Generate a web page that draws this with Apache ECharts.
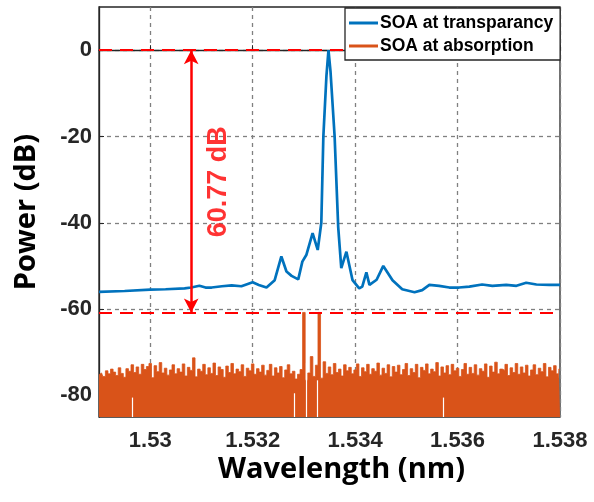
<!DOCTYPE html>
<html><head><meta charset="utf-8">
<script src="https://cdn.jsdelivr.net/npm/echarts@6/dist/echarts.min.js"></script>
<style>html,body{margin:0;padding:0;background:#fff}#c{width:594px;height:502px}</style>
</head><body><div id="c"></div>
<script>
// ---- data ----
const xTicks = [1.53, 1.532, 1.534, 1.536, 1.538];
const yTicks = [-80, -60, -40, -20, 0];
const seriesNames = ['SOA at transparancy', 'SOA at absorption'];

const blueX = [1.529, 1.5295, 1.5300, 1.5303, 1.53067, 1.5308, 1.53096, 1.53108, 1.5312, 1.5314, 1.53159, 1.53178, 1.532, 1.53212, 1.53227, 1.53243, 1.53256, 1.53266, 1.53276, 1.53289, 1.53297, 1.53305, 1.53317, 1.53327, 1.53334, 1.53338, 1.53344, 1.53348, 1.53352, 1.5336, 1.53367, 1.53373, 1.53383, 1.53395, 1.53408, 1.53414, 1.53422, 1.53428, 1.53442, 1.53455, 1.53473, 1.53492, 1.53516, 1.53531, 1.53545, 1.53564, 1.53584, 1.53603, 1.53623, 1.53648, 1.53668, 1.53695, 1.53715, 1.53734, 1.53754, 1.53779, 1.538];
const blueY = [-56.0, -55.8, -55.5, -55.4, -55.2, -55.0, -54.6, -55.0, -55.0, -54.7, -54.5, -54.7, -53.8, -54.4, -55.0, -53.3, -47.8, -51.3, -52.3, -53.1, -49.0, -47.4, -42.4, -46.3, -40.0, -20.0, -6.0, 0.0, -5.0, -20.0, -41.0, -50.5, -46.7, -53.3, -55.2, -54.8, -51.5, -54.4, -53.2, -50.0, -53.3, -55.4, -56.1, -55.6, -54.4, -54.6, -55.0, -55.0, -54.8, -54.3, -54.6, -54.4, -54.6, -53.9, -54.3, -54.4, -54.4];

const orangeStart = 1.529, orangeStep = 0.00005;
const orangeY = [
 -75.2,-74.8,-75.6,-74.3,-75.0,-73.9,-74.6,-75.4,-73.6,-74.9,-75.8,-73.8,-74.4,-72.9,-74.7,-73.4,-75.1,-72.8,-74.0,-73.3,
 -72.6,-75.9,-73.1,-74.5,-72.4,-74.8,-73.7,-75.3,-74.1,-72.9,-75.0,-73.8,-74.6,-72.7,-75.5,-73.5,-74.2,-71.3,-75.7,-73.9,
 -74.4,-72.8,-75.2,-73.6,-74.9,-72.5,-75.4,-73.4,-74.0,-75.8,-73.2,-74.7,-72.6,-75.0,-73.9,-74.5,-72.9,-75.6,-73.7,-74.3,
 -72.7,-75.1,-73.8,-74.6,-73.0,-75.3,-74.2,-72.8,-75.5,-73.6,-74.8,-73.3,-75.9,-74.1,-72.9,-75.0,-74.4,-76.2,-75.1,-74.0,
 -60.77,-76.5,-74.8,-71.0,-75.6,-73.0,-60.77,-76.0,-72.2,-74.9,
 -73.4,-75.2,-72.6,-74.7,-73.9,-75.5,-72.9,-74.3,-73.5,-75.0,-74.1,-72.7,-75.6,-73.6,-74.5,-72.8,-75.1,-73.8,-74.4,-72.5,
 -75.3,-73.7,-74.9,-72.9,-75.7,-73.3,-74.6,-73.0,-75.2,-74.0,-72.6,-75.4,-73.8,-74.7,-72.8,-75.9,-73.5,-74.2,-72.7,-75.0,
 -73.9,-74.5,-72.4,-75.5,-73.4,-74.8,-73.1,-75.2,-72.8,-74.3,-73.7,-75.6,-74.0,-72.6,-75.1,-73.5,-74.9,-72.9,-75.3,-73.8,
 -74.4,-72.7,-75.8,-73.2,-74.6,-72.3,-75.0,-73.9,-74.2,-72.8,-75.4,-73.6,-74.7,-72.6,-75.1,-73.4,-74.8,-73.0,-75.5,-74.1,
 -72.9,-75.2,-73.7,-74.5,-72.6,-75.7,-73.5,-74.3,-73.1,-75.0,-73.9
];
// thin white slits in the absorption fill
const gapX = [1.52964, 1.53282, 1.53305, 1.53326, 1.53572];
const gapTop = [-80.5, -79.5, -72.5, -76.5, -80.5];

const refLevels = [0, -60.77];
const arrowX = 1.5308;
const annotX = 1.53134, annotY = -30.5, annotText = '60.77 dB';

// ---- build ----
const blueData = blueX.map((x, i) => [x, blueY[i]]);
const orangeData = orangeY.map((y, i) => [+(orangeStart + i * orangeStep).toFixed(5), y]);
const AXMIN = -85;

const chart = echarts.init(document.getElementById('c'), null, {renderer: 'canvas'});
const tickFont = {fontFamily: 'Liberation Sans', fontWeight: 'bold', fontSize: 22, color: '#262626'};
const nameFont = {fontFamily: 'Open Sans', fontWeight: 'bold', fontSize: 29, color: '#000'};
const gridLine = {show: true, lineStyle: {color: '#808080', width: 1.3, type: [4, 4]}};

chart.setOption({
  animation: false,
  backgroundColor: '#fff',
  grid: {left: 99, right: 34, top: 7, bottom: 85, show: true, borderColor: '#262626', borderWidth: 1.3, backgroundColor: 'transparent'},
  legend: {
    data: seriesNames.map(n => ({name: n, icon: 'rect'})),
    orient: 'vertical', left: 345, top: 8, z: 20,
    backgroundColor: '#fff', borderColor: '#262626', borderWidth: 1.3,
    padding: [6, 7, 5, 4], itemGap: 5, itemWidth: 29, itemHeight: 3,
    textStyle: {fontFamily: 'Liberation Sans', fontWeight: 'bold', fontSize: 17.5, color: '#000', padding: [0, 0, 0, -3]}
  },
  xAxis: {
    type: 'value', min: 1.529, max: 1.538,
    name: 'Wavelength (nm)', nameLocation: 'middle', nameGap: 38, nameMoveOverlap: false,
    nameTextStyle: Object.assign({padding: [0, 0, 0, 24]}, nameFont),
    axisLine: {show: true, lineStyle: {color: '#262626', width: 1.3}},
    axisTick: {show: true, inside: true, length: 5, customValues: xTicks, lineStyle: {color: '#262626'}},
    axisLabel: Object.assign({customValues: xTicks, margin: 13}, tickFont),
    splitLine: gridLine
  },
  yAxis: {
    type: 'value', min: AXMIN, max: 10,
    name: 'Power (dB)', nameLocation: 'middle', nameGap: 58, nameTextStyle: nameFont,
    axisLine: {show: true, lineStyle: {color: '#262626', width: 1.3}},
    axisTick: {show: true, inside: true, length: 5, customValues: yTicks, lineStyle: {color: '#262626'}},
    axisLabel: Object.assign({customValues: yTicks, margin: 7}, tickFont),
    splitLine: gridLine
  },
  series: [
    {
      name: seriesNames[1], type: 'line', data: orangeData, symbol: 'none', z: 2, step: 'middle',
      lineStyle: {color: '#D95319', width: 0.8}, itemStyle: {color: '#D95319'},
      areaStyle: {color: '#D95319', opacity: 1, origin: 'start'}
    },
    {
      name: 'gaps', type: 'line', data: [], symbol: 'none', z: 3, silent: true,
      markLine: {silent: true, symbol: 'none', label: {show: false},
        lineStyle: {color: '#ffffff', width: 1.2, type: 'solid'},
        data: gapX.map((x, i) => [{coord: [x, AXMIN]}, {coord: [x, gapTop[i]]}])}
    },
    {
      name: seriesNames[0], type: 'line', data: blueData, symbol: 'none', z: 4,
      lineStyle: {color: '#0072BD', width: 2.7}, itemStyle: {color: '#0072BD'}
    },
    {
      name: 'refs', type: 'line', data: [], symbol: 'none', z: 5, silent: true,
      markLine: {silent: true, symbol: 'none', label: {show: false},
        lineStyle: {color: '#ff0000', width: 2.2, type: [13, 8]},
        data: refLevels.map(v => ({yAxis: v}))}
    },
    {
      name: 'arrow', type: 'line', data: [], symbol: 'none', z: 6, silent: true,
      markLine: {silent: true, symbol: ['arrow', 'arrow'], symbolSize: [11, 14], label: {show: false},
        lineStyle: {color: '#ff0000', width: 2.5, type: 'solid'},
        data: [[{coord: [arrowX, refLevels[0]]}, {coord: [arrowX, refLevels[1]]}]]}
    },
    {
      name: 'annot', type: 'scatter', data: [[annotX, annotY]], symbolSize: 0, z: 7, silent: true,
      label: {show: true, position: 'inside', rotate: 90, formatter: annotText,
        fontFamily: 'Liberation Sans', fontWeight: 'bold', fontSize: 27, color: '#ff0000'}
    }
  ]
});
</script></body></html>
